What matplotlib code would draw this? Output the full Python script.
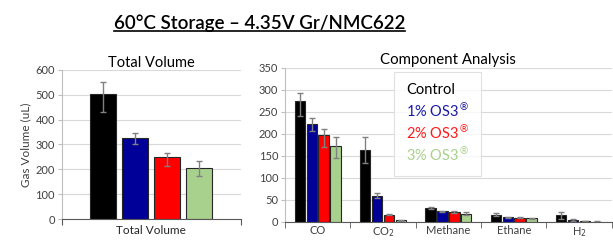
import numpy as np
import matplotlib
matplotlib.use('Agg')
import matplotlib.pyplot as plt
from matplotlib.lines import Line2D

plt.rcParams['font.family'] = ['Lato', 'DejaVu Sans']

# data
series = ['Control', r'1% OS3$^{\circledR}$', r'2% OS3$^{\circledR}$', r'3% OS3$^{\circledR}$']
colors = ['#000000', '#000099', '#ff0000', '#a9d18e']
text_colors = ['#000000', '#1a1aa6', '#ff1a1a', '#a9d18e']

total_vol = [505, 327, 250, 207]
total_lo = [432, 303, 215, 172]
total_hi = [553, 345, 267, 235]

components = ['CO', 'CO$_2$', 'Methane', 'Ethane', 'H$_2$']
comp_vals = [
    [275, 164, 31, 17, 15],   # Control
    [222, 60, 24, 11, 4],     # 1% OS3
    [197, 17, 22, 10, 2],     # 2% OS3
    [172, 4, 19, 8, 1],       # 3% OS3
]
comp_lo = [
    [240, 135, 29, 14, 7],
    [207, 55, 22, 10, 2],
    [170, 15, 20, 9, 1.5],
    [145, 3, 16, 7, 0.5],
]
comp_hi = [
    [292, 194, 34, 20, 23],
    [237, 65, 26, 12, 6],
    [211, 19, 24, 11, 2.5],
    [194, 5, 22, 9, 1.5],
]

fig = plt.figure(figsize=(6.13, 2.4), dpi=100)

def style_axes(ax):
    ax.spines['top'].set_visible(False)
    ax.spines['right'].set_visible(False)
    ax.spines['left'].set_color('#bfbfbf')
    ax.spines['bottom'].set_color('#595959')
    ax.yaxis.grid(True, color='#d9d9d9', linewidth=0.8)
    ax.set_axisbelow(True)
    ax.tick_params(axis='y', length=3, color='#bfbfbf', labelsize=8, pad=2)
    for lab in ax.get_yticklabels():
        lab.set_color('#404040')

# ---- Total volume
ax1 = fig.add_axes([0.101, 0.0875, 0.292, 0.621])
step = 0.179
for i in range(4):
    x = (i - 1.5) * step
    err = [[total_vol[i] - total_lo[i]], [total_hi[i] - total_vol[i]]]
    ax1.bar(x, total_vol[i], width=0.145, color=colors[i], edgecolor='#262626', linewidth=0.8,
            yerr=err, error_kw=dict(ecolor='#808080', elinewidth=1, capsize=2, capthick=1))
ax1.set_xlim(-0.5, 0.5)
ax1.set_ylim(0, 600)
ax1.set_yticks(np.arange(0, 601, 100))
ax1.set_xticks([-0.5, 0.5])
ax1.set_xticklabels(['', ''])
ax1.tick_params(axis='x', length=4, color='#595959', direction='out', pad=0)
ax1.set_xlabel('Total Volume', fontsize=8.5, labelpad=0, color='#262626')
ax1.set_ylabel('Gas Volume (uL)', fontsize=8.5, color='#404040', labelpad=3)
ax1.set_title('Total Volume', fontsize=10.5, pad=2)
style_axes(ax1)

# ---- Component analysis
ax2 = fig.add_axes([0.465, 0.075, 0.533, 0.642])
xpos = np.arange(len(components))
step2 = 0.182
for i in range(4):
    vals = np.array(comp_vals[i])
    err = [vals - np.array(comp_lo[i]), np.array(comp_hi[i]) - vals]
    ax2.bar(xpos + (i - 1.5) * step2, vals, width=0.16, color=colors[i], edgecolor='#262626',
            linewidth=0.8, yerr=err,
            error_kw=dict(ecolor='#808080', elinewidth=1, capsize=2, capthick=1))
ax2.set_xlim(-0.5, len(components) - 0.5)
ax2.set_ylim(0, 350)
ax2.set_yticks(np.arange(0, 351, 50))
ax2.set_xticks(xpos)
ax2.set_xticklabels(components, fontsize=8, color='#404040')
ax2.set_xticks(np.arange(-0.5, len(components), 1), minor=True)
ax2.tick_params(axis='x', which='major', length=0, pad=2.5)
ax2.tick_params(axis='x', which='minor', length=4, color='#595959', direction='out')
ax2.set_title('Component Analysis', fontsize=10.8, pad=3)
style_axes(ax2)

# legend: colored text only, in a light box
handles = [Line2D([], [], linestyle='none') for _ in series]
leg = ax2.legend(handles, series, loc='upper left', bbox_to_anchor=(0.335, 0.975),
                 fontsize=10.5, handlelength=0, handletextpad=0, frameon=True,
                 fancybox=False, edgecolor='#d9d9d9', borderpad=0.8, labelspacing=0.2,
                 borderaxespad=0)
leg.get_frame().set_linewidth(0.8)
for t, c in zip(leg.get_texts(), text_colors):
    t.set_color(c)

# main title with underline
title = fig.text(0.423, 0.904, '60\u00b0C Storage \u2013 4.35V Gr/NMC622', ha='center', va='center',
                 fontsize=13.5, fontweight='semibold')
fig.canvas.draw()
bb = title.get_window_extent().transformed(fig.transFigure.inverted())
fig.add_artist(Line2D([bb.x0, bb.x1], [bb.y0 + 0.004, bb.y0 + 0.004], color='black', linewidth=1.2,
                      transform=fig.transFigure))

fig.savefig('out.png', dpi=100)
